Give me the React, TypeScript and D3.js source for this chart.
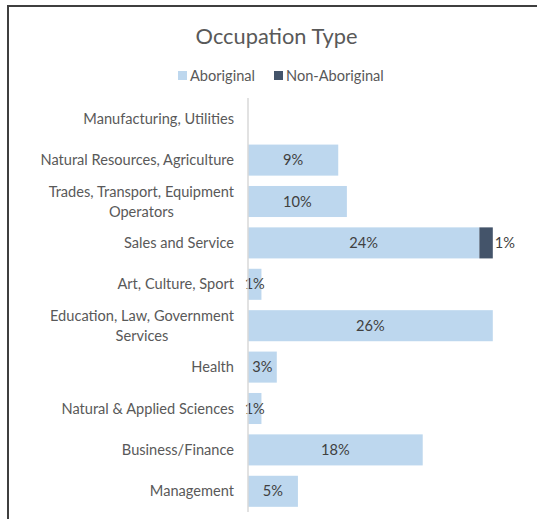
import React, { useEffect, useRef } from "react";
import * as d3 from "d3";

const categories = [
  "Manufacturing, Utilities",
  "Natural Resources, Agriculture",
  "Trades, Transport, Equipment|Operators",
  "Sales and Service",
  "Art, Culture, Sport",
  "Education, Law, Government|Services",
  "Health",
  "Natural & Applied Sciences",
  "Business/Finance",
  "Management",
];
const aboriginal = [0, 9.4, 10.3, 24.1, 1.4, 25.5, 3.0, 1.4, 18.2, 5.2];
const nonAboriginal = [0, 0, 0, 1.4, 0, 0, 0, 0, 0, 0];
const seriesNames = ["Aboriginal", "Non-Aboriginal"];
const title = "Occupation Type";

const W = 537;
const H = 519;
const FONT = "Lato, 'Open Sans', sans-serif";
const COLORS = ["#BDD7EE", "#44546A"];
const TEXT = "#595959";
const FS = 14.6;

export default function App() {
  const ref = useRef<SVGSVGElement>(null);
  useEffect(() => {
    const svg = d3.select(ref.current);
    svg.selectAll("*").remove();

    // frame
    svg.append("rect").attr("x", 8).attr("y", 6).attr("width", W + 20).attr("height", H + 20)
      .attr("fill", "#fff").attr("stroke", "#3f3f3f").attr("stroke-width", 2);

    svg.append("text").attr("x", 276.5).attr("y", 44).attr("text-anchor", "middle")
      .attr("font-family", FONT).attr("font-size", 21.8).attr("fill", TEXT).text(title);

    // legend
    const lg = svg.append("g").attr("font-family", FONT).attr("font-size", FS).attr("fill", TEXT);
    const legendX = [178, 274];
    seriesNames.forEach((n, i) => {
      lg.append("rect").attr("x", legendX[i]).attr("y", 71).attr("width", 9).attr("height", 9).attr("fill", COLORS[i]);
      lg.append("text").attr("x", legendX[i] + 12).attr("y", 81).text(n);
    });

    const x = d3.scaleLinear().domain([0, 30]).range([248, 248 + 30 * 9.6]);
    const y = d3.scaleBand().domain(categories).range([98, 512]).paddingInner(0.25).paddingOuter(0.125);

    // bars
    const g = svg.append("g");
    categories.forEach((c, i) => {
      const a = aboriginal[i];
      const b = nonAboriginal[i];
      const y0 = y(c)!;
      const bh = y.bandwidth();
      if (a > 0) {
        g.append("rect").attr("x", x(0)).attr("y", y0).attr("width", x(a) - x(0)).attr("height", bh).attr("fill", COLORS[0]);
        g.append("text").attr("x", (x(0) + x(a)) / 2).attr("y", y0 + bh / 2 + 5).attr("text-anchor", "middle")
          .attr("font-family", FONT).attr("font-size", FS).attr("fill", "#404040").text(Math.round(a) + "%");
      }
      if (b > 0) {
        g.append("rect").attr("x", x(a)).attr("y", y0).attr("width", x(a + b) - x(a)).attr("height", bh).attr("fill", COLORS[1]);
        g.append("text").attr("x", x(a + b) + 2).attr("y", y0 + bh / 2 + 5).attr("text-anchor", "start")
          .attr("font-family", FONT).attr("font-size", FS).attr("fill", "#404040").text(Math.round(b) + "%");
      }
    });

    // axis line
    svg.append("line").attr("x1", x(0)).attr("x2", x(0)).attr("y1", 98).attr("y2", 512)
      .attr("stroke", "#D9D9D9").attr("stroke-width", 1.5);

    // category labels
    const lab = svg.append("g").attr("font-family", FONT).attr("font-size", FS).attr("fill", TEXT);
    const right = 234;
    categories.forEach((c) => {
      const lines = c.split("|");
      const cy = y(c)! + y.bandwidth() / 2;
      const lh = 20;
      const texts = lines.map((l, k) =>
        lab.append("text").attr("y", cy - ((lines.length - 1) * lh) / 2 + k * lh + 5).text(l)
      );
      const widths = texts.map((t) => (t.node() as SVGTextElement).getComputedTextLength());
      const maxW = Math.max(...widths);
      texts.forEach((t) => t.attr("text-anchor", "middle").attr("x", right - maxW / 2));
    });
  }, []);
  return (
    <svg ref={ref} width={W} height={H} style={{ position: "absolute", left: 0, top: 0, background: "#fff" }} />
  );
}
